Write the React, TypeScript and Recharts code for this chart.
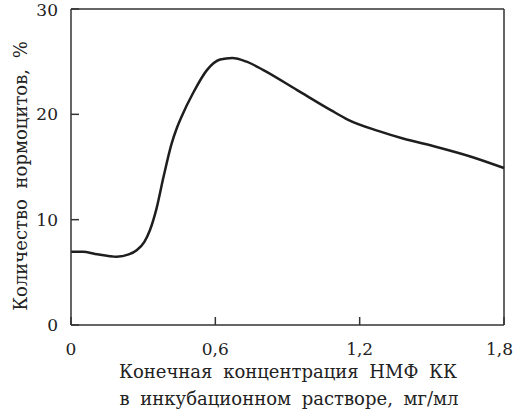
import { LineChart, Line, XAxis, YAxis, ReferenceLine } from "recharts";

const concentration = [
  0, 0.05, 0.1, 0.19, 0.24, 0.273, 0.305, 0.328, 0.356, 0.384, 0.418, 0.44, 0.46,
  0.507, 0.565, 0.62, 0.67, 0.73, 0.8, 0.94, 1.08, 1.15, 1.28, 1.38, 1.52, 1.66, 1.8,
];
const normocytes = [
  6.95, 6.95, 6.75, 6.48, 6.7, 7.1, 7.9, 9.0, 11.1, 14.0, 17.2, 18.7, 19.8,
  22.0, 24.2, 25.2, 25.35, 25.0, 24.2, 22.3, 20.4, 19.5, 18.4, 17.7, 16.9, 16.0, 14.9,
];
const xTicks = [0, 0.6, 1.2, 1.8];
const yTicks = [0, 10, 20, 30];

const data = concentration.map((x, i) => ({ x, y: normocytes[i] }));

const FONT = "DejaVu Serif";
const INK = "#333";
const TEXT = "#222";

function fmtComma(v: number) {
  return v === 0 ? "0" : v.toFixed(1).replace(".", ",");
}

export default function App() {
  return (
    <div style={{ position: "absolute", left: 0, top: 0, width: 513, height: 412, background: "#fff" }}>
      <LineChart
        width={513}
        height={412}
        data={data}
        margin={{ top: 9, right: 9, bottom: 57, left: 31 }}
      >
        <XAxis
          dataKey="x"
          type="number"
          domain={[0, 1.8]}
          ticks={xTicks}
          tickFormatter={fmtComma}
          tickSize={-8}
          tickMargin={26}
          stroke={INK}
          strokeWidth={1.5}
          tick={{ fill: TEXT, fontSize: 17, style: { fontFamily: FONT } }}
        />
        <YAxis
          width={40}
          type="number"
          domain={[0, 30]}
          ticks={yTicks}
          tickSize={-8}
          tickMargin={21}
          stroke={INK}
          strokeWidth={1.5}
          tick={{ fill: TEXT, fontSize: 17, style: { fontFamily: FONT } }}
        />
        <ReferenceLine y={30} stroke={INK} strokeWidth={1.5} />
        <ReferenceLine x={1.8} stroke={INK} strokeWidth={1.5} />
        <Line
          type="monotone"
          dataKey="y"
          stroke="#1e1e1e"
          strokeWidth={2.5}
          dot={false}
          isAnimationActive={false}
        />
        <text
          x={27}
          y={176}
          transform="rotate(-90 27 176)"
          textAnchor="middle"
          fontSize={18}
          fill={TEXT}
          style={{ fontFamily: FONT, wordSpacing: 5 }}
        >
          Количество нормоцитов, %
        </text>
        <text
          x={288}
          y={378}
          textAnchor="middle"
          fontSize={18}
          fill={TEXT}
          style={{ fontFamily: FONT, wordSpacing: 5 }}
        >
          Конечная концентрация НМФ КК
        </text>
        <text
          x={289}
          y={405}
          textAnchor="middle"
          fontSize={18}
          fill={TEXT}
          style={{ fontFamily: FONT, wordSpacing: 5 }}
        >
          в инкубационном растворе, мг/мл
        </text>
      </LineChart>
    </div>
  );
}
